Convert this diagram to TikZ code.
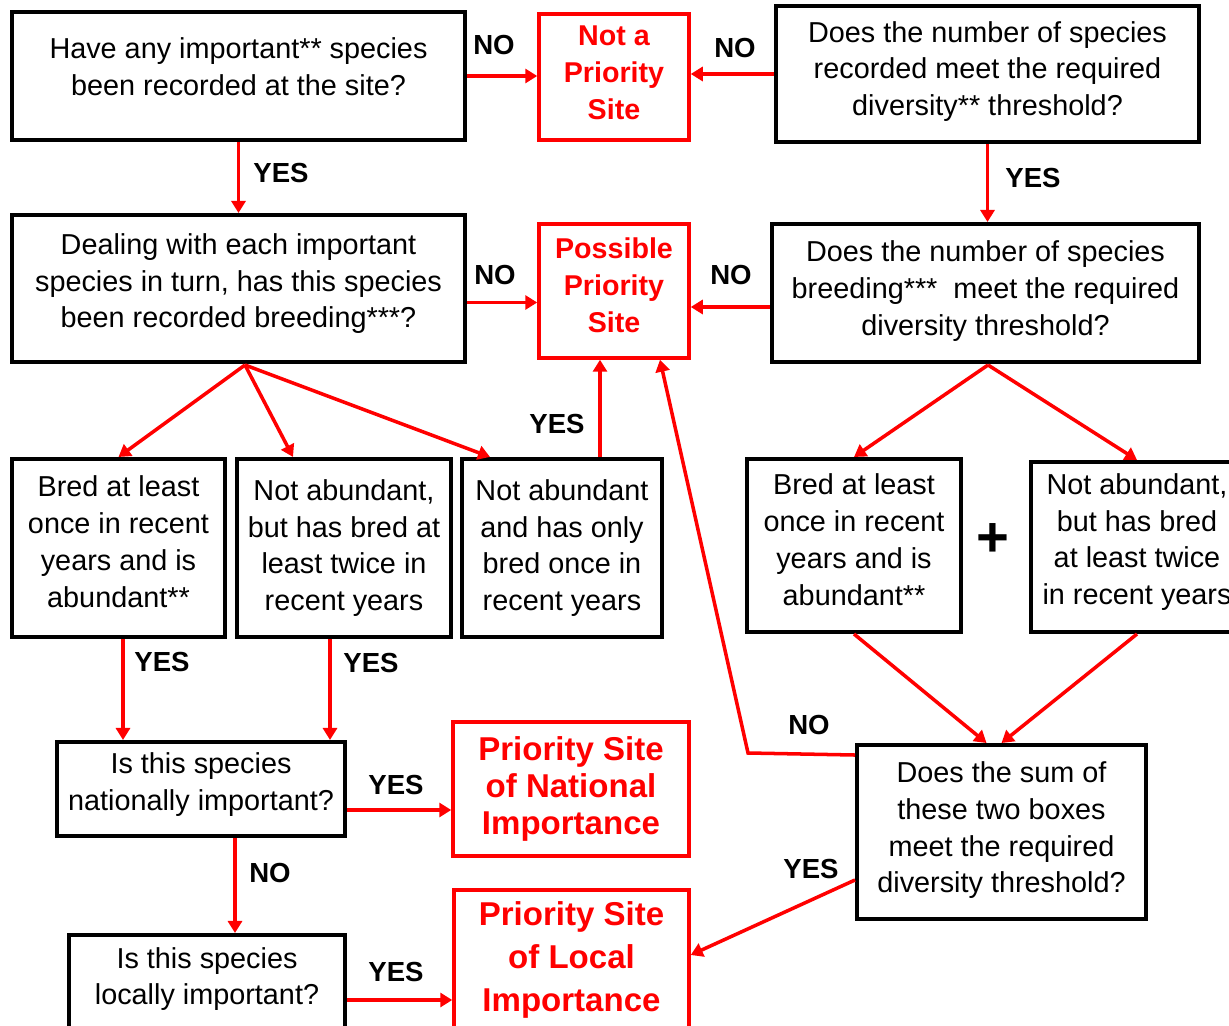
\documentclass[tikz,border=0pt]{standalone}
\usepackage{fontspec}
\setmainfont{Liberation Sans}
\usetikzlibrary{arrows.meta}
\newcommand{\lowpad}[1]{\rule[-#1]{0pt}{#1}}

\begin{document}
\begin{tikzpicture}[x=0.02cm,y=-0.02cm]
                \tikzstyle{box}=[draw, line width=2.3pt, align=center, inner sep=0pt, font=\fontsize{16.4}{21}\selectfont]
                \tikzstyle{res}=[draw=red, text=red, line width=2pt, align=center, inner sep=0pt, font=\fontsize{16.3}{21}\selectfont\bfseries]
                \tikzstyle{big}=[font=\fontsize{18.8}{21}\selectfont\bfseries]
                \tikzstyle{arr}=[red, line width=2pt, -{Triangle[length=0.24cm,width=0.28cm]}]
                \tikzstyle{lab}=[font=\fontsize{15.7}{18}\selectfont\bfseries]

                \useasboundingbox (0,0) rectangle (1229,1026);
                \clip (0,0) rectangle (1229,1026);

                % top row
                \node[box, minimum width=9.06cm, minimum height=2.56cm] (a) at (238.5,76) {Have any important** species\\been recorded at the site?\lowpad{10.5pt}};
                \node[res, minimum width=3cm, minimum height=2.52cm] (np) at (614,77) {Not a\\Priority\\Site\lowpad{4.7pt}};
                \node[box, minimum width=8.46cm, minimum height=2.72cm] (b) at (987.5,74) {Does the number of species\\recorded meet the required\\diversity** threshold?\lowpad{6.3pt}};

                % second row
                \node[box, minimum width=9.06cm, minimum height=2.94cm] (c) at (238.5,288.5) {Dealing with each important\\species in turn, has this species\\been recorded breeding***?\lowpad{9pt}};
                \node[res, minimum width=3cm, minimum height=2.68cm] (pp) at (614,291) {Possible\\Priority\\Site\lowpad{6.5pt}};
                \node[box, minimum width=8.54cm, minimum height=2.76cm] (d) at (985.5,293) {Does the number of species\\breeding***\ \ meet the required\\diversity threshold?\lowpad{5.5pt}};

                % breeding boxes
                \node[box, minimum width=4.26cm, minimum height=3.56cm] (e1) at (118.5,548) {Bred at least\\once in recent\\years and is\\abundant**\lowpad{7pt}};
                \node[box, minimum width=4.28cm, minimum height=3.56cm] (e2) at (344,548) {Not abundant,\\but has bred at\\least twice in\\recent years};
                \node[box, minimum width=4cm, minimum height=3.56cm] (e3) at (562,548) {Not abundant\\and has only\\bred once in\\recent years};
                \node[box, minimum width=4.28cm, minimum height=3.46cm] (f1) at (854,545.5) {Bred at least\\once in recent\\years and is\\abundant**\lowpad{6.5pt}};
                \node[box, minimum width=4.24cm, minimum height=3.4cm] (f2) at (1137,547) {Not abundant,\\but has bred\\at least twice\\in recent years\lowpad{9pt}};
                \node[font=\fontsize{32}{32}\selectfont\bfseries] (plus) at (993,540) {+};

                % bottom part
                \node[box, minimum width=5.78cm, minimum height=3.48cm] (g) at (1001.5,832) {Does the sum of\\these two boxes\\meet the required\\diversity threshold?\lowpad{5.5pt}};
                \node[box, minimum width=5.76cm, minimum height=1.88cm] (h) at (201,789) {Is this species\\nationally important?\lowpad{8pt}};
                \node[res, big, minimum width=4.72cm, minimum height=2.68cm] (pni) at (571,789) {Priority Site\\of National\\Importance};
                \node[box, minimum width=5.52cm, minimum height=1.94cm] (i) at (207,983.5) {Is this species\\locally important?\lowpad{8.5pt}};
                \node[res, big, font=\fontsize{18.8}{24.5}\selectfont\bfseries, minimum width=4.7cm, minimum height=2.8cm] (pli) at (571.5,960) {Priority Site\\of Local\\Importance};

                \coordinate (cb) at (245,365);
                \coordinate (db) at (988,365);
                \coordinate (k) at (748,753);

                % connectors
                \draw[arr] (a.east) -- (a.east -| np.west);
                \draw[arr] (b.west) -- (b.west -| np.east);
                \draw[arr] (a.south) -- (c.north);
                \draw[arr] (b.south) -- (b.south |- d.north);
                \draw[arr] ([yshift=-0.28cm]c.east) -- ([yshift=-0.28cm]c.east -| pp.west);
                \draw[arr] ([yshift=-0.28cm]d.west) -- ([yshift=-0.28cm]d.west -| pp.east);

                \draw[arr] (cb) -- (e1.north);
                \draw[arr] (cb) -- ([xshift=-1.02cm]e2.north);
                \draw[arr] (cb) -- ([xshift=-1.44cm]e3.north);
                \draw[arr] ([xshift=0.76cm]e3.north) -- ([xshift=0.76cm]e3.north |- pp.south);

                \draw[arr] (db) -- (f1.north);
                \draw[arr] (db) -- (f2.north);
                \draw[arr] (f1.south) -- ([xshift=-0.3cm]g.north);
                \draw[arr] (f2.south) -- (g.north);

                \draw[arr] ([yshift=1.54cm]g.west) -- (k) -- ([xshift=0.92cm]pp.south);
                \draw[arr] ([yshift=-0.96cm]g.west) -- ([yshift=0.1cm]pli.east);

                \draw[arr] ([xshift=0.09cm]e1.south) -- ([xshift=0.09cm]e1.south |- h.north);
                \draw[arr] ([xshift=-0.28cm]e2.south) -- ([xshift=-0.28cm]e2.south |- h.north);
                \draw[arr] ([yshift=-0.42cm]h.east) -- ([yshift=-0.42cm]h.east -| pni.west);
                \draw[arr] ([xshift=0.68cm]h.south) -- ([xshift=0.68cm]h.south |- i.north);
                \draw[arr] ([yshift=-0.33cm]i.east) -- ([yshift=-0.33cm]i.east -| pli.west);

                % labels
                \node[lab] (l1) at (494,45) {NO};
                \node[lab] (l2) at (735,48) {NO};
                \node[lab] (l3) at (281,173) {YES};
                \node[lab] (l4) at (1033,178) {YES};
                \node[lab] (l5) at (495,275) {NO};
                \node[lab] (l6) at (731,275) {NO};
                \node[lab] (l7) at (557,424) {YES};
                \node[lab] (l8) at (162,662) {YES};
                \node[lab] (l9) at (371,663) {YES};
                \node[lab] (l10) at (809,725) {NO};
                \node[lab] (l11) at (396,785) {YES};
                \node[lab] (l12) at (811,869) {YES};
                \node[lab] (l13) at (270,873) {NO};
                \node[lab] (l14) at (396,972) {YES};
\end{tikzpicture}
\end{document}
